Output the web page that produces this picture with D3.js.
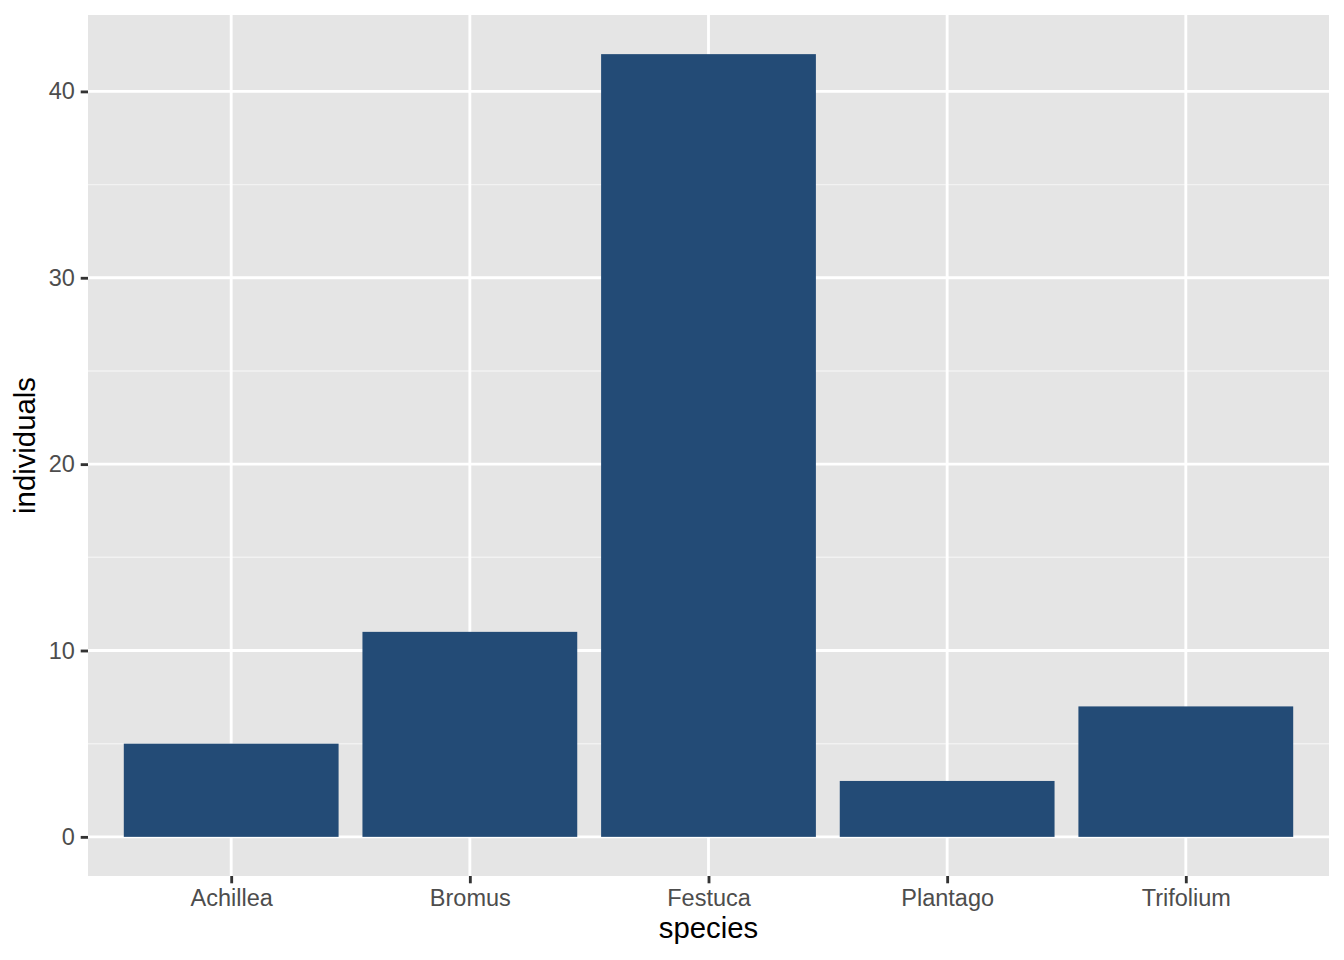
<!DOCTYPE html>
<html>
<head>
<meta charset="utf-8">
<script src="https://cdn.jsdelivr.net/npm/d3@7"></script>
<style>
  body { margin: 0; background: #fff; }
  text { font-family: "Liberation Sans", Arial, sans-serif; }
</style>
</head>
<body>
<div id="chart"></div>
<script>
// data
var species = ["Achillea", "Bromus", "Festuca", "Plantago", "Trifolium"];
var individuals = [5, 11, 42, 3, 7];
var yTicks = [0, 10, 20, 30, 40];
var yMinor = [5, 15, 25, 35];

var W = 1344, H = 960;
var panel = {left: 88, top: 15, right: 1329, bottom: 876};

var svg = d3.select("#chart").append("svg")
    .attr("width", W)
    .attr("height", H);

// ggplot-style expansion: 0.6 units on discrete axis, 5% on continuous
var n = species.length;
var step = (panel.right - panel.left) / (n - 1 + 1.2);
var x = d3.scalePoint()
    .domain(species)
    .range([panel.left + 0.6 * step, panel.right - 0.6 * step]);

var ymax = d3.max(individuals);
var y = d3.scaleLinear()
    .domain([-ymax * 0.05, ymax * 1.05])
    .range([panel.bottom, panel.top]);

// panel background
svg.append("rect")
    .attr("x", panel.left)
    .attr("y", panel.top)
    .attr("width", panel.right - panel.left)
    .attr("height", panel.bottom - panel.top)
    .attr("fill", "#e5e5e5");

// minor grid
svg.selectAll("line.minor")
    .data(yMinor)
    .enter()
    .append("line")
    .attr("class", "minor")
    .attr("x1", panel.left).attr("x2", panel.right)
    .attr("y1", function(d){ return y(d); })
    .attr("y2", function(d){ return y(d); })
    .attr("stroke", "#f2f2f2")
    .attr("stroke-width", 1.42);

// major grid
svg.selectAll("line.majory")
    .data(yTicks)
    .enter()
    .append("line")
    .attr("class", "majory")
    .attr("x1", panel.left).attr("x2", panel.right)
    .attr("y1", function(d){ return y(d); })
    .attr("y2", function(d){ return y(d); })
    .attr("stroke", "#ffffff")
    .attr("stroke-width", 2.85);

svg.selectAll("line.majorx")
    .data(species)
    .enter()
    .append("line")
    .attr("class", "majorx")
    .attr("x1", function(d){ return x(d); })
    .attr("x2", function(d){ return x(d); })
    .attr("y1", panel.top).attr("y2", panel.bottom)
    .attr("stroke", "#ffffff")
    .attr("stroke-width", 2.85);

// bars
var barW = step * 0.9;
svg.selectAll("rect.bar")
    .data(individuals)
    .enter()
    .append("rect")
    .attr("class", "bar")
    .attr("x", function(d, i){ return x(species[i]) - barW / 2; })
    .attr("y", function(d){ return y(d); })
    .attr("width", barW)
    .attr("height", function(d){ return y(0) - y(d); })
    .attr("fill", "#234b76");

// axes
var yAxis = d3.axisLeft(y)
    .tickValues(yTicks)
    .tickSize(7.3)
    .tickPadding(5.9)
    .tickFormat(d3.format("d"));

var gy = svg.append("g")
    .attr("transform", "translate(" + panel.left + ",0)")
    .call(yAxis);

var xAxis = d3.axisBottom(x)
    .tickSize(7.3)
    .tickPadding(5.9);

var gx = svg.append("g")
    .attr("transform", "translate(0," + panel.bottom + ")")
    .call(xAxis);

[gy, gx].forEach(function(g){
    g.select(".domain").remove();
    g.selectAll(".tick line")
        .attr("stroke", "#333333")
        .attr("stroke-width", 2.85);
    g.selectAll(".tick text")
        .attr("fill", "#4d4d4d")
        .style("font-size", "23.5px")
        .style("font-family", "'Liberation Sans', Arial, sans-serif");
});

// titles
svg.append("text")
    .text("species")
    .attr("x", (panel.left + panel.right) / 2)
    .attr("y", 938)
    .attr("text-anchor", "middle")
    .attr("font-size", "29.3px")
    .attr("fill", "#000");

svg.append("text")
    .text("individuals")
    .attr("transform", "translate(35," + ((panel.top + panel.bottom) / 2) + ") rotate(-90)")
    .attr("text-anchor", "middle")
    .attr("font-size", "29.3px")
    .attr("fill", "#000");
</script>
</body>
</html>
